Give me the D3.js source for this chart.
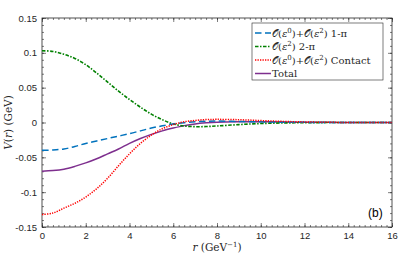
<!DOCTYPE html>
<html>
<head>
<meta charset="utf-8">
<script src="https://cdn.jsdelivr.net/npm/d3@7"></script>
<style>
  body { margin: 0; background: #fff; }
  svg { display: block; }
</style>
</head>
<body>
<div id="chart"></div>
<script>
// r en GeV^-1
const rVals = [0, 0.5, 1, 1.5, 2, 2.5, 3, 3.5, 4, 4.5, 5, 5.5, 6, 6.5, 7, 7.5, 8, 9, 10, 11, 12, 13, 14, 15, 16];
const onePi = [-0.040, -0.0395, -0.038, -0.0345, -0.030, -0.0265, -0.023, -0.0195, -0.016, -0.012, -0.008, -0.0048, -0.002, -0.0002, 0.001, 0.0017, 0.002, 0.0015, 0.001, 0.0005, 0.0002, 0.0001, 0, 0, 0];
const twoPi = [0.103, 0.102, 0.098, 0.092, 0.083, 0.071, 0.058, 0.045, 0.033, 0.022, 0.012, 0.004, -0.002, -0.005, -0.006, -0.0058, -0.005, -0.003, -0.0015, -0.0007, -0.0003, -0.0001, 0, 0, 0];
const contact = [-0.132, -0.130, -0.123, -0.116, -0.107, -0.095, -0.080, -0.062, -0.045, -0.030, -0.018, -0.009, -0.003, 0.001, 0.003, 0.0042, 0.0045, 0.004, 0.0028, 0.0016, 0.0008, 0.0003, 0.0001, 0, 0];
const total = [-0.070, -0.069, -0.067, -0.063, -0.058, -0.052, -0.045, -0.038, -0.030, -0.023, -0.017, -0.012, -0.008, -0.0045, -0.002, -0.0005, 0.0005, 0.001, 0.001, 0.0007, 0.0004, 0.0002, 0.0001, 0, 0];

const xTicks = [0, 2, 4, 6, 8, 10, 12, 14, 16];
const yTicks = [-0.15, -0.1, -0.05, 0, 0.05, 0.1, 0.15];

const series = [
  { name: "1pi", values: onePi, color: "#0072BD", dash: "6.5,3.5", width: 1.5,
    label: [["𝒪(", ""], ["ε", "i"], ["0", "s"], [")+𝒪(", ""], ["ε", "i"], ["2", "s"], [") 1-π", ""]] },
  { name: "2pi", values: twoPi, color: "#008000", dash: "3.5,1.5,1.5,1.5", width: 1.6,
    label: [["𝒪(", ""], ["ε", "i"], ["2", "s"], [") 2-π", ""]] },
  { name: "contact", values: contact, color: "#ff0000", dash: "1.3,1.2", width: 1.5,
    label: [["𝒪(", ""], ["ε", "i"], ["0", "s"], [")+𝒪(", ""], ["ε", "i"], ["2", "s"], [") Contact", ""]] },
  { name: "total", values: total, color: "#7E2F8E", dash: null, width: 1.5,
    label: [["Total", ""]] }
];

const width = 415, height = 259;
const margin = { left: 42, right: 23, top: 18, bottom: 32 };

const svg = d3.select("#chart").append("svg")
  .attr("width", width).attr("height", height);

const x = d3.scaleLinear().domain([0, 16]).range([margin.left, width - margin.right]);
const y = d3.scaleLinear().domain([-0.15, 0.15]).range([height - margin.bottom, margin.top]);

const fmt = d => d === 0 ? "0" : String(d);
const sans = "Liberation Sans, Arial, sans-serif";
const serif = "DejaVu Serif, Liberation Serif, serif";

// axes avec ticks vers l'intérieur
function drawAxis(axisFn, scale, ticks, minor, transform, labels) {
  const gMinor = svg.append("g").attr("transform", transform)
    .call(axisFn(scale).tickValues(minor).tickSize(-2).tickFormat(""));
  gMinor.select(".domain").remove();
  const g = svg.append("g").attr("transform", transform)
    .call(axisFn(scale).tickValues(ticks).tickSize(-4).tickPadding(5)
      .tickFormat(labels ? fmt : ""));
  g.select(".domain").remove();
  g.selectAll("text").attr("font-family", sans).attr("font-size", 9.5).attr("fill", "#262626");
  svg.selectAll("g line").attr("stroke", "#262626").attr("stroke-width", 0.6);
}

const xMinor = d3.range(0, 16.001, 0.25).map(v => +v.toFixed(2));
const yMinor = d3.range(-0.15, 0.1501, 0.01).map(v => +v.toFixed(3));

drawAxis(d3.axisBottom, x, xTicks, xMinor, `translate(0,${y(-0.15)})`, true);
drawAxis(d3.axisTop, x, xTicks, xMinor, `translate(0,${y(0.15)})`, false);
drawAxis(d3.axisLeft, y, yTicks, yMinor, `translate(${x(0)},0)`, true);
drawAxis(d3.axisRight, y, yTicks, yMinor, `translate(${x(16)},0)`, false);

svg.append("rect")
  .attr("x", x(0)).attr("y", y(0.15))
  .attr("width", x(16) - x(0)).attr("height", y(-0.15) - y(0.15))
  .attr("fill", "none").attr("stroke", "#262626").attr("stroke-width", 0.8);

const line = d3.line()
  .x((d, i) => x(rVals[i]))
  .y(d => y(d))
  .curve(d3.curveCatmullRom);

const plot = svg.append("g");
// ordre de tracé: total en dessous
[series[3], series[1], series[0], series[2]].forEach(s => {
  plot.append("path")
    .datum(s.values)
    .attr("d", line)
    .attr("fill", "none")
    .attr("stroke", s.color)
    .attr("stroke-width", s.width)
    .attr("stroke-dasharray", s.dash);
});

// légende
const lx = 252, ly = 23, lw = 131, lh = 57;
const legend = svg.append("g");
legend.append("rect")
  .attr("x", lx).attr("y", ly).attr("width", lw).attr("height", lh)
  .attr("fill", "#fff").attr("stroke", "#262626").attr("stroke-width", 0.6);

series.forEach((s, i) => {
  const yy = ly + 10 + i * 13.5;
  legend.append("line")
    .attr("x1", lx + 3).attr("x2", lx + 19)
    .attr("y1", yy).attr("y2", yy)
    .attr("stroke", s.color).attr("stroke-width", s.width)
    .attr("stroke-dasharray", s.dash);
  const t = legend.append("text")
    .attr("x", lx + 20).attr("y", yy + 3.5)
    .attr("font-family", serif).attr("font-size", 10).attr("fill", "#262626");
  s.label.forEach(([txt, kind], j) => {
    const sp = t.append("tspan").text(txt);
    if (kind === "i") sp.attr("font-style", "italic");
    if (kind === "s") sp.attr("font-size", 7).attr("dy", -4);
    // retour à la ligne de base après l'exposant
    if (j > 0 && s.label[j - 1][1] === "s") sp.attr("dy", 4);
  });
});

// étiquettes d'axes
svg.append("text")
  .attr("transform", `translate(12,${(y(0.15) + y(-0.15)) / 2}) rotate(-90)`)
  .attr("text-anchor", "middle")
  .attr("font-family", serif).attr("font-size", 10.5).attr("fill", "#262626")
  .call(t => {
    t.append("tspan").text("V").attr("font-style", "italic");
    t.append("tspan").text("(");
    t.append("tspan").text("r").attr("font-style", "italic");
    t.append("tspan").text(") (GeV)");
  });

svg.append("text")
  .attr("x", (x(0) + x(16)) / 2).attr("y", 251)
  .attr("text-anchor", "middle")
  .attr("font-family", serif).attr("font-size", 10.5).attr("fill", "#262626")
  .call(t => {
    t.append("tspan").text("r").attr("font-style", "italic");
    t.append("tspan").text(" (GeV");
    t.append("tspan").text("−1").attr("font-size", 7).attr("dy", -4);
    t.append("tspan").text(")").attr("dy", 4);
  });

svg.append("text")
  .attr("x", 368).attr("y", 217)
  .attr("font-family", sans).attr("font-size", 12).attr("fill", "#000")
  .text("(b)");
</script>
</body>
</html>
